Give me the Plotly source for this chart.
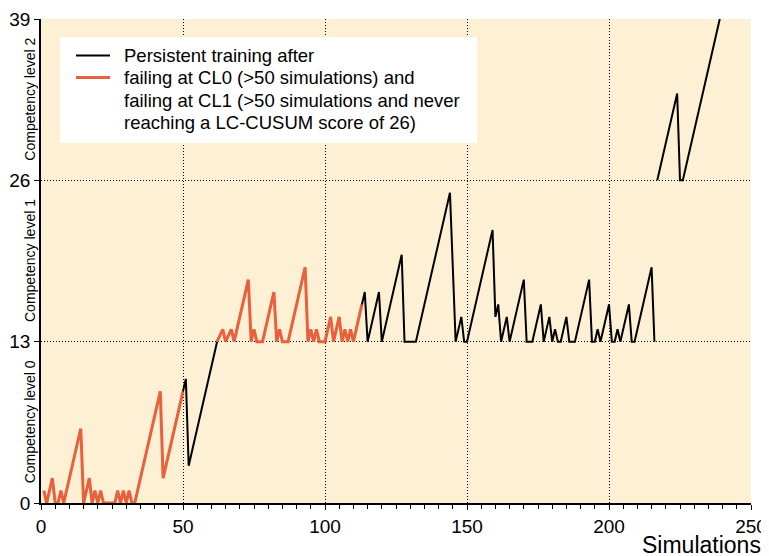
import plotly.graph_objects as go

# ---- data ----
red_x = [1, 2, 4, 5, 6, 7, 8, 14, 15, 17, 18, 19, 20, 21, 22, 26, 27, 28, 29, 30, 31, 32, 33, 42, 43, 50,
         None,
         62, 64, 65, 67, 68, 73, 74, 75, 76, 78, 82, 83, 84, 85, 87, 93, 94, 95, 96, 97, 98, 100,
         102, 103, 105, 106, 107, 108, 109, 110, 113]
red_y = [1, 0, 2, 0, 0, 1, 0, 6, 0, 2, 0, 1, 0, 1, 0, 0, 1, 0, 1, 0, 1, 0, 0, 9, 2, 9,
         None,
         13, 14, 13, 14, 13, 18, 13, 14, 13, 13, 17, 13, 14, 13, 13, 19, 13, 14, 13, 14, 13, 13,
         15, 13, 15, 13, 14, 13, 14, 13, 16]

black_x = [50, 51, 52, 62,
           None,
           113, 114, 115, 119, 120, 127, 128, 132, 144, 146, 148, 149, 150, 159, 160, 161, 162, 164, 165,
           170, 171, 173, 176, 177, 179, 180, 181, 182, 183, 185, 186, 188, 193, 194, 195, 196, 197, 200,
           201, 202, 203, 204, 207, 208, 209, 215, 216,
           None,
           217, 224, 225, 226, 239]
black_y = [9, 10, 3, 13,
           None,
           16, 17, 13, 17, 13, 20, 13, 13, 25, 13, 15, 13, 13, 22, 15, 16, 13, 15, 13,
           18, 13, 13, 16, 13, 15, 13, 14, 13, 13, 15, 13, 13, 18, 13, 13, 14, 13, 16,
           13, 13, 14, 13, 16, 13, 13, 19, 13,
           None,
           26, 33, 26, 26, 39]

x_ticks = [0, 50, 100, 150, 200, 250]
y_ticks = [0, 13, 26, 39]
level_labels = ["Competency level 0", "Competency level 1", "Competency level 2"]
level_centers = [6.5, 19.5, 32.5]
legend_lines = ["Persistent training after",
                "failing at CL0 (>50 simulations) and",
                "failing at CL1 (>50 simulations and never",
                "reaching a LC-CUSUM score of 26)"]

RED = "#E8603C"
BG = "#FDF0D4"
FONT = "Liberation Sans, Arial, sans-serif"
DOT = "1px,2px"

fig = go.Figure()
fig.add_trace(go.Scatter(x=red_x, y=red_y, mode="lines", line=dict(color=RED, width=3),
                         showlegend=False, hoverinfo="skip"))
fig.add_trace(go.Scatter(x=black_x, y=black_y, mode="lines", line=dict(color="black", width=2),
                         showlegend=False, hoverinfo="skip"))

# page has an 8px body margin: figure is drawn starting at (8, 8) on screen
OFF = 8
W, H = 769 - OFF, 556 - OFF
PL, PR, PT, PB = 41, 751, 19, 503       # plot area in screen pixels
L, T = PL - OFF, PT - OFF
R, B = W - (PR - OFF), H - (PB - OFF)
pw, ph = PR - PL, PB - PT

def px(xs):
    return (xs - PL) / pw

def py(ys):
    return (PB - ys) / ph

fig.update_layout(
    width=W, height=H,
    margin=dict(l=L, r=R, t=T, b=B, autoexpand=False),
    paper_bgcolor="white", plot_bgcolor=BG,
    font=dict(family=FONT, color="black"),
    xaxis=dict(range=[0, 250], tickvals=x_ticks, ticks="outside", ticklen=5, tickwidth=1,
               tickcolor="black", showline=True, linecolor="black", linewidth=1.5,
               showgrid=True, gridcolor="black", griddash=DOT, gridwidth=1,
               zeroline=False, tickfont=dict(size=19), automargin=False,
               minor=dict(dtick=5, ticks="outside", ticklen=4, tickcolor="black", showgrid=False)),
    yaxis=dict(range=[0, 39], tickvals=y_ticks, ticks="outside", ticklen=5, tickwidth=1,
               tickcolor="black", showline=True, linecolor="black", linewidth=1.5,
               showgrid=True, gridcolor="black", griddash=DOT, gridwidth=1,
               zeroline=False, tickfont=dict(size=19), automargin=False),
)

# competency level labels
for lab, yc in zip(level_labels, level_centers):
    fig.add_annotation(text=lab, x=px(30), xref="paper", y=yc, yref="y", textangle=-90,
                       showarrow=False, font=dict(size=14, family=FONT), xanchor="center",
                       yanchor="middle")

# x axis title
fig.add_annotation(text="Simulations", x=px(763), y=py(545), xref="paper", yref="paper",
                   xanchor="right", yanchor="middle", showarrow=False,
                   font=dict(size=23, family=FONT))

# legend box
fig.add_shape(type="rect", xref="paper", yref="paper", x0=px(60), x1=px(477), y0=py(143), y1=py(37),
              fillcolor="white", line=dict(width=0), layer="above")
fig.add_shape(type="line", xref="paper", yref="paper", x0=px(76), x1=px(110), y0=py(55.5), y1=py(55.5),
              line=dict(color="black", width=2), layer="above")
fig.add_shape(type="line", xref="paper", yref="paper", x0=px(76), x1=px(110), y0=py(77.5), y1=py(77.5),
              line=dict(color=RED, width=3), layer="above")
for i, t in enumerate(legend_lines):
    fig.add_annotation(text=t, x=px(122), y=py(55.5 + 22.3 * i), xref="paper", yref="paper",
                       xanchor="left", yanchor="middle", showarrow=False,
                       font=dict(size=18.5, family=FONT))

fig.write_html("out.html")
